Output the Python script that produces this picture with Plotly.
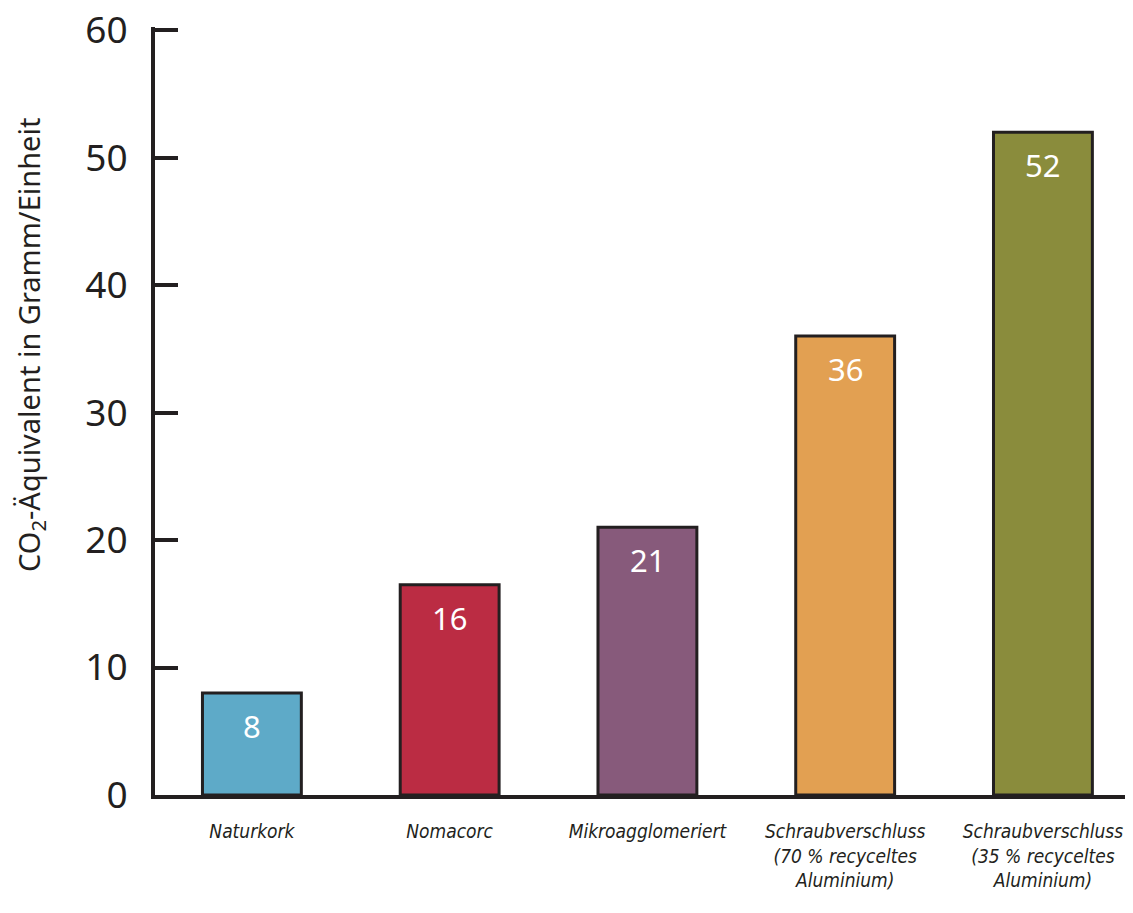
import plotly.graph_objects as go

categories = ["Naturkork", "Nomacorc", "Mikroagglomeriert",
              "Schraubverschluss<br>(70 % recyceltes<br>Aluminium)",
              "Schraubverschluss<br>(35 % recyceltes<br>Aluminium)"]
values = [8, 16.5, 21, 36, 52]
value_labels = ["8", "16", "21", "36", "52"]
colors = ["#5eaac8", "#bb2c43", "#875a7b", "#e2a052", "#8a8c3c"]
y_ticks = [0, 10, 20, 30, 40, 50, 60]

INK = "#231f20"
OFF = 8  # page body margin
Y_TOP = 60.25
W, H = 1133 - 2 * OFF, 913 - 2 * OFF
PX_PER_UNIT = (795 - 30) / 60
L, R = 155 - OFF, 0
T = round(30 - OFF - (Y_TOP - 60) * PX_PER_UNIT)
B = H - (795 - OFF)
PW = W - L - R
PH = H - T - B

fig = go.Figure()
fig.add_trace(go.Bar(
    x=list(range(len(categories))), y=values,
    marker=dict(color=colors, line=dict(color=INK, width=3)),
    width=0.5, hoverinfo="skip",
))

for i, (v, lab) in enumerate(zip(values, value_labels)):
    fig.add_annotation(x=i, y=v, text=lab, showarrow=False, yanchor="middle",
                       yshift=-33, font=dict(family="Noto Sans", size=31, color="white"))

fig.add_annotation(xref="paper", yref="paper", x=(30 - 155) / PW, y=(795 - 345) / PH,
                   text="CO<sub>2</sub>-Äquivalent in Gramm/Einheit", textangle=-90,
                   showarrow=False, xanchor="center", yanchor="middle",
                   font=dict(family="Noto Sans", size=29, color=INK))

fig.update_layout(
    width=W, height=H,
    margin=dict(l=L, r=R, t=T, b=B, pad=0, autoexpand=False),
    plot_bgcolor="white", paper_bgcolor="white",
    showlegend=False,
    xaxis=dict(
        range=[-0.49, 4.415], tickmode="array", tickvals=list(range(len(categories))),
        ticktext=categories, showline=True, linewidth=4, linecolor=INK,
        ticks="", showgrid=False, zeroline=False, ticklabelstandoff=16,
        ticklabeloverflow="allow", automargin=False,
        tickfont=dict(family="DejaVu Sans Condensed, Lato", size=19, color=INK, style="italic"),
    ),
    yaxis=dict(
        range=[0, Y_TOP], tickmode="array", tickvals=y_ticks,
        showline=True, linewidth=4, linecolor=INK,
        ticks="inside", ticklen=23, tickwidth=4, tickcolor=INK,
        showgrid=False, zeroline=False, ticklabelstandoff=16,
        ticklabeloverflow="allow", automargin=False,
        tickfont=dict(family="Noto Sans", size=37, color=INK),
    ),
)

fig.write_html("out.html")
